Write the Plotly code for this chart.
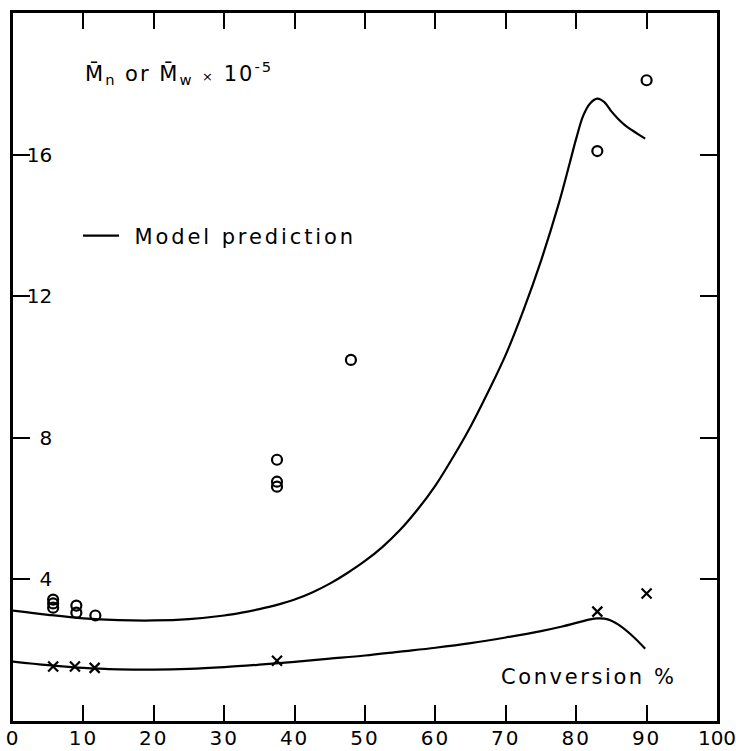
import plotly.graph_objects as go

# Measured data: weight-average (circles) and number-average (crosses) molecular weight x 1e-5
mw_x = [5.7, 5.7, 5.7, 9.0, 9.0, 11.7, 37.5, 37.5, 37.5, 48.0, 83.0, 90.0]
mw_y = [3.43, 3.32, 3.2, 3.26, 3.06, 2.98, 7.38, 6.76, 6.62, 10.2, 16.1, 18.1]

mn_x = [5.7, 8.8, 11.6, 37.5, 83.0, 90.0]
mn_y = [1.54, 1.54, 1.5, 1.7, 3.09, 3.6]

# Model prediction curves
model_mw_x = [0, 5, 10, 15, 20, 25, 30, 32.5, 35, 37.5, 40, 42.5, 45, 47.5, 50, 52.5, 55, 57.5, 60, 62.5, 65, 67.5,
              70, 72.5, 75, 77.5, 79, 80, 81, 82, 83, 84, 85, 86, 87, 88, 89, 89.8]
model_mw_y = [3.12, 3.0, 2.9, 2.85, 2.84, 2.88, 2.98, 3.06, 3.16, 3.28, 3.43, 3.63, 3.88, 4.18, 4.52, 4.92, 5.4, 5.98, 6.65, 7.45, 8.32, 9.3,
              10.35, 11.6, 13.0, 14.6, 15.7, 16.45, 17.1, 17.45, 17.58, 17.48, 17.22, 17.0, 16.82, 16.68, 16.55, 16.45]

model_mn_x = [0, 5, 10, 15, 20, 25, 30, 35, 40, 45, 50, 55, 60, 65, 70, 75, 78, 80, 82, 83, 84, 85, 86, 88, 89.8]
model_mn_y = [1.68, 1.58, 1.5, 1.46, 1.45, 1.47, 1.52, 1.59, 1.67, 1.76, 1.85, 1.96, 2.07, 2.2, 2.36, 2.54, 2.67, 2.77, 2.87, 2.9, 2.89, 2.83, 2.72, 2.4, 2.04]

x_ticks = [0, 10, 20, 30, 40, 50, 60, 70, 80, 90, 100]
y_ticks = [4, 8, 12, 16]
y_ticktext = ["\u20084", "\u20088", "12", "16"]

FONT = "DejaVu Sans"
INK = "black"


def spaced(txt, px):
    return f"<span style='letter-spacing:{px}px'>{txt}</span>"


x_ticktext = [spaced(str(v), 2) if v < 100 else str(v) for v in x_ticks]

fig = go.Figure()

fig.add_trace(go.Scatter(
    x=model_mw_x, y=model_mw_y, mode="lines",
    name="\u2002" + spaced("Model prediction", 2.9),
    line=dict(color=INK, width=2.2, shape="spline", smoothing=1.0),
    legendgroup="model", showlegend=True,
))
fig.add_trace(go.Scatter(
    x=model_mn_x, y=model_mn_y, mode="lines", name="Model prediction",
    line=dict(color=INK, width=2.2, shape="spline", smoothing=1.0),
    legendgroup="model", showlegend=False,
))
fig.add_trace(go.Scatter(
    x=mw_x, y=mw_y, mode="markers", name="Mw",
    marker=dict(symbol="circle-open", size=10, color=INK, line=dict(width=2.2, color=INK)),
    showlegend=False,
))
fig.add_trace(go.Scatter(
    x=mn_x, y=mn_y, mode="markers", name="Mn",
    marker=dict(symbol="x-thin-open", size=10, color=INK, line=dict(width=2.2, color=INK)),
    showlegend=False,
))

fig.update_layout(
    width=736, height=751,
    margin=dict(l=13, r=19, t=13, b=30, autoexpand=False),
    paper_bgcolor="white", plot_bgcolor="white",
    font=dict(family=FONT, color=INK, size=20),
    showlegend=True,
    legend=dict(
        x=(78 - 13) / 704, y=1 - (236 - 13) / 708, xanchor="left", yanchor="middle",
        bgcolor="rgba(0,0,0,0)", borderwidth=0, itemwidth=36,
        font=dict(family=FONT, size=21, color=INK),
    ),
    xaxis=dict(
        range=[0, 100], tickvals=x_ticks, ticktext=x_ticktext,
        ticks="inside", ticklen=16, tickwidth=2, tickcolor=INK,
        showline=True, linecolor=INK, linewidth=2.5, mirror="ticks",
        showgrid=False, zeroline=False, automargin=False,
        ticklabeloverflow="allow", ticklabelstandoff=-3,
        tickfont=dict(family=FONT, size=20, color=INK),
    ),
    yaxis=dict(
        range=[0, 20], tickvals=y_ticks, ticktext=y_ticktext,
        ticks="inside", ticklen=17, tickwidth=2, tickcolor=INK,
        ticklabelposition="outside", ticklabelstandoff=-46,
        ticklabeloverflow="allow",
        showline=True, linecolor=INK, linewidth=2.5, mirror="ticks",
        showgrid=False, zeroline=False, automargin=False,
        tickfont=dict(family=FONT, size=20, color=INK),
    ),
    annotations=[
        dict(
            x=10, y=18.3, xref="x", yref="y", xanchor="left", yanchor="middle",
            text=spaced("M\u0304<sub>n</sub> or M\u0304<sub>w</sub> <span style='font-size:13px'>\u00d7</span> 10<sup>-5</sup>", 2),
            showarrow=False, font=dict(family=FONT, size=21, color=INK),
        ),
        dict(
            x=81.8, y=1.25, xref="x", yref="y", xanchor="center", yanchor="middle",
            text=spaced("Conversion %", 2.6), showarrow=False,
            font=dict(family=FONT, size=21, color=INK),
        ),
    ],
)

fig.write_html("out.html")
